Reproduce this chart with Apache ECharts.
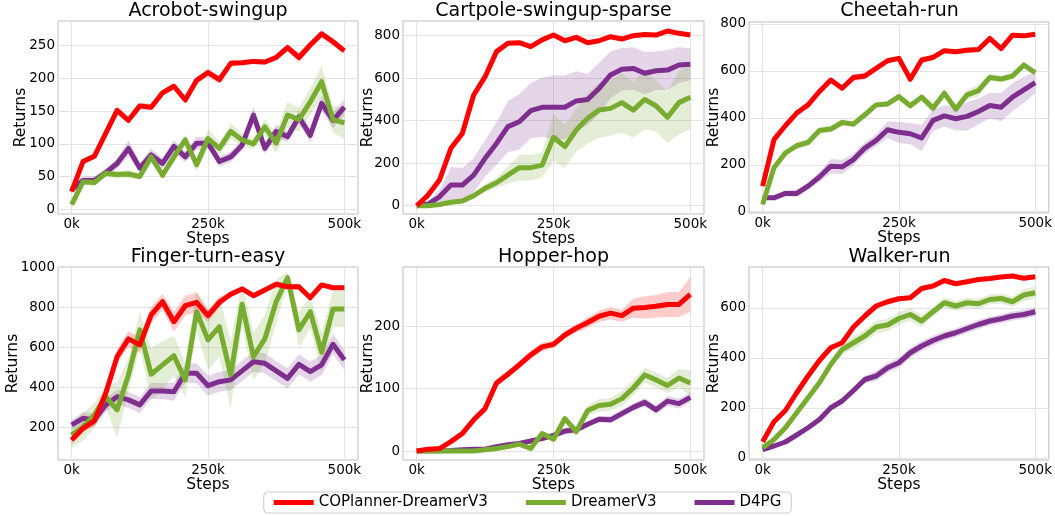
<!DOCTYPE html>
<html>
<head>
<meta charset="utf-8">
<script src="https://cdn.jsdelivr.net/npm/echarts@6/dist/echarts.min.js"></script>
<style>
html,body{margin:0;padding:0;background:#fff;}
#chart{width:1055px;height:516px;}
</style>
</head>
<body>
<div id="chart"></div>
<script>
// ---------------- DATA ----------------
const steps = [0, 20833, 41667, 62500, 83333, 104167, 125000, 145833, 166667, 187500, 208333, 229167, 250000,
  270833, 291667, 312500, 333333, 354167, 375000, 395833, 416667, 437500, 458333, 479167, 500000];
const envNames = ['Acrobot-swingup', 'Cartpole-swingup-sparse', 'Cheetah-run', 'Finger-turn-easy', 'Hopper-hop', 'Walker-run'];
const methodNames = ['COPlanner-DreamerV3', 'DreamerV3', 'D4PG'];
const xTickValues = [0, 250000, 500000];
const yTickValues = [
  [0, 50, 100, 150, 200, 250],
  [0, 200, 400, 600, 800],
  [0, 200, 400, 600, 800],
  [200, 400, 600, 800, 1000],
  [0, 100, 200],
  [0, 200, 400, 600]
];

// Acrobot-swingup
const acrobotCop = [27,73,81,116,151,136,158,156,178,188,167,197,209,198,223,224,226,225,232,247,232,251,268,256,242];
const acrobotCopSd = [3,5,5,5,6,5,5,5,5,5,5,5,6,6,5,4,4,4,5,6,8,6,5,6,4];
const acrobotDreamer = [7,42,41,55,53,54,50,80,52,80,106,68,108,93,119,106,100,126,101,144,137,164,195,137,132];
const acrobotDreamerSd = [4,5,6,5,6,6,5,6,5,8,8,10,15,10,12,10,8,12,15,20,18,20,25,20,25];
const acrobotD4pg = [30,44,44,56,70,93,63,83,70,96,80,101,101,73,80,98,144,93,119,111,141,113,162,136,156];
const acrobotD4pgSd = [5,6,6,6,8,12,8,10,8,10,8,10,8,8,8,8,12,8,10,8,10,10,12,12,12];

// Cartpole-swingup-sparse
const cartpoleCop = [0,50,121,270,340,521,607,725,764,767,748,780,803,776,792,767,776,795,784,800,805,803,822,811,803];
const cartpoleCopSd = [2,8,10,15,15,20,12,10,8,8,8,8,6,6,6,6,6,6,6,6,6,6,6,6,6];
const cartpoleDreamer = [0,0,6,16,22,47,82,108,144,179,179,191,322,278,356,411,450,458,485,450,500,469,416,485,510];
const cartpoleDreamerSd = [0,2,4,8,10,15,20,25,40,60,60,60,110,100,100,120,130,130,140,130,140,120,120,150,150];
const cartpoleD4pg = [0,8,42,97,97,144,223,293,372,395,447,463,463,463,493,500,552,615,642,646,623,635,638,662,665];
const cartpoleD4pgSd = [0,10,30,85,80,80,85,100,120,130,130,140,150,150,140,120,120,110,100,100,100,90,95,85,75];

// Cheetah-run
const cheetahCop = [109,307,366,420,455,512,561,526,572,578,611,643,653,564,646,657,686,681,688,691,738,695,752,749,756];
const cheetahCopSd = [5,8,8,8,8,10,10,10,15,15,15,10,10,10,15,12,10,8,12,10,12,10,10,10,10];
const cheetahDreamer = [31,187,250,281,295,346,352,380,373,413,455,459,490,451,488,441,505,437,498,516,572,565,578,625,592];
const cheetahDreamerSd = [5,12,15,15,15,15,15,15,12,12,12,12,15,15,15,20,15,15,20,25,15,15,15,15,10];
const cheetahD4pg = [59,59,78,78,109,148,194,191,222,271,304,349,338,332,314,389,408,396,406,427,452,445,488,519,550];
const cheetahD4pgSd = [5,8,12,15,15,20,30,30,25,25,25,35,45,45,55,45,45,50,60,55,55,60,60,55,45];

// Finger-turn-easy
const fingerCop = [137,195,232,370,553,642,612,762,828,728,808,825,758,825,865,892,858,887,915,903,903,848,912,898,898];
const fingerCopSd = [20,20,25,40,35,40,40,40,40,50,50,50,30,25,15,15,15,15,15,15,15,15,10,10,10];
const fingerDreamer = [162,203,262,353,287,462,687,465,512,558,437,778,637,703,462,815,553,642,828,948,687,778,575,792,792];
const fingerDreamerSd = [60,70,60,50,140,80,90,130,120,100,90,100,150,150,170,110,120,120,110,30,90,80,100,90,90];
const fingerD4pg = [212,245,237,312,353,337,312,382,382,378,470,470,408,428,437,482,528,520,482,445,515,478,512,615,537];
const fingerD4pgSd = [25,30,35,35,35,40,40,40,40,45,45,50,50,50,50,50,50,50,50,50,50,50,50,50,50];

// Hopper-hop
const hopperCop = [0,3,4,15,28,50,68,109,123,138,154,167,171,186,197,206,216,221,217,229,230,232,235,235,251];
const hopperCopSd = [1,2,2,4,5,5,5,6,6,7,7,7,6,6,7,8,9,10,10,15,18,18,20,20,28];
const hopperDreamer = [0,0,0,0,0,0,2,4,7,11,4,28,19,52,31,65,73,75,84,101,122,114,105,117,109];
const hopperDreamerSd = [0,0,0,0,0,0,1,1,2,2,2,4,4,5,8,8,10,10,12,12,12,12,12,15,20];
const hopperD4pg = [0,0.5,0.5,1,2,3,3,7,10,12,16,20,25,32,34,43,51,50,60,70,78,66,80,76,86];
const hopperD4pgSd = [0,0,0,0,0,1,2,2,2,3,3,4,4,5,5,5,5,6,6,6,7,7,8,8,8];

// Walker-run
const walkerCop = [64,144,189,260,327,389,440,460,523,567,607,624,636,640,677,687,709,696,704,713,717,723,727,718,724];
const walkerCopSd = [5,8,8,8,8,10,10,10,10,10,12,12,10,10,10,10,10,10,8,8,8,8,8,8,8];
const walkerDreamer = [40,73,120,180,240,300,373,433,460,487,523,531,557,573,547,584,620,607,620,616,633,637,624,651,660];
const walkerDreamerSd = [5,8,10,12,15,15,15,20,25,25,25,25,25,25,25,20,20,20,20,20,20,20,20,25,25];
const walkerD4pg = [33,47,63,91,120,153,200,227,269,313,327,360,380,420,447,469,487,500,517,533,547,556,567,573,584];
const walkerD4pgSd = [5,5,6,8,8,10,10,12,15,15,20,20,20,20,20,20,18,18,18,18,18,18,18,18,18];

const panelData = [
  [acrobotCop, acrobotCopSd, acrobotDreamer, acrobotDreamerSd, acrobotD4pg, acrobotD4pgSd],
  [cartpoleCop, cartpoleCopSd, cartpoleDreamer, cartpoleDreamerSd, cartpoleD4pg, cartpoleD4pgSd],
  [cheetahCop, cheetahCopSd, cheetahDreamer, cheetahDreamerSd, cheetahD4pg, cheetahD4pgSd],
  [fingerCop, fingerCopSd, fingerDreamer, fingerDreamerSd, fingerD4pg, fingerD4pgSd],
  [hopperCop, hopperCopSd, hopperDreamer, hopperDreamerSd, hopperD4pg, hopperD4pgSd],
  [walkerCop, walkerCopSd, walkerDreamer, walkerDreamerSd, walkerD4pg, walkerD4pgSd]
];

// ---------------- LAYOUT / STYLE ----------------
const FONT = '"DejaVu Sans", sans-serif';
const lineColors = ['#ff0000', '#77ac30', '#7e2f8e'];
const bandColors = ['rgba(255,0,0,0.2)', 'rgba(119,172,48,0.2)', 'rgba(126,47,142,0.2)'];
const grids = [
  {left: 58, top: 21, width: 300, height: 193},
  {left: 403, top: 21, width: 301, height: 193},
  {left: 749, top: 22, width: 301, height: 191},
  {left: 58, top: 267, width: 300, height: 193},
  {left: 403, top: 267, width: 301, height: 193},
  {left: 749, top: 267, width: 301, height: 193}
];
const yRanges = [[-7.2, 287.7], [-39, 869], [-5.5, 808], [36.5, 1001.5], [-14.4, 295], [-9, 763]];
const yNameGaps = [29, 27, 27, 37, 27, 27];

const chart = echarts.init(document.getElementById('chart'), null, {renderer: 'canvas'});

const gridOpts = grids.map(g => ({
  left: g.left, top: g.top, width: g.width, height: g.height,
  show: true, borderColor: '#bdbdbd', borderWidth: 1, backgroundColor: 'transparent'
}));

const xAxes = grids.map((g, i) => ({
  type: 'value', gridIndex: i, min: -25000, max: 525000,
  name: 'Steps', nameLocation: 'middle', nameGap: 17, nameMoveOverlap: false,
  nameTextStyle: {fontFamily: FONT, fontSize: 15.5, color: '#000'},
  axisLine: {show: false}, axisTick: {show: false, customValues: xTickValues},
  axisLabel: {customValues: xTickValues, fontFamily: FONT, fontSize: 13.5, color: '#000', margin: 3,
    formatter: v => Math.round(v / 1000) + 'k'},
  splitLine: {show: true, lineStyle: {color: '#e3e3e3', width: 1}}
}));

const yAxes = grids.map((g, i) => ({
  type: 'value', gridIndex: i, min: yRanges[i][0], max: yRanges[i][1],
  name: 'Returns', nameLocation: 'middle', nameGap: yNameGaps[i], nameMoveOverlap: false,
  nameTextStyle: {fontFamily: FONT, fontSize: 15.5, color: '#000'},
  axisLine: {show: false}, axisTick: {show: false, customValues: yTickValues[i]},
  axisLabel: {customValues: yTickValues[i], fontFamily: FONT, fontSize: 13.5, color: '#000', margin: 3,
    formatter: v => String(v)},
  splitLine: {show: true, lineStyle: {color: '#e3e3e3', width: 1}}
}));

function bandSeries(p, m, mean, sd) {
  const lo = mean.map((v, k) => v - sd[k]);
  const hi = mean.map((v, k) => v + sd[k]);
  return {
    type: 'custom', xAxisIndex: p, yAxisIndex: p, silent: true, z: 1, clip: true,
    data: steps.map((x, k) => [x, lo[k], hi[k]]),
    encode: {x: 0, y: [1, 2]},
    renderItem: (params, api) => {
      if (params.dataIndex !== 0) return null;
      const pts = [];
      for (let k = 0; k < steps.length; k++) pts.push(api.coord([steps[k], lo[k]]));
      for (let k = steps.length - 1; k >= 0; k--) pts.push(api.coord([steps[k], hi[k]]));
      return {type: 'polygon', shape: {points: pts}, style: {fill: bandColors[m], stroke: null}};
    }
  };
}

const series = [];
panelData.forEach((arrs, p) => {
  [2, 1, 0].forEach(m => series.push(bandSeries(p, m, arrs[m * 2], arrs[m * 2 + 1])));
  [2, 1, 0].forEach(m => {
    const mean = arrs[m * 2];
    series.push({
      type: 'line', name: methodNames[m], xAxisIndex: p, yAxisIndex: p,
      data: steps.map((x, k) => [x, mean[k]]),
      showSymbol: false, symbol: 'none', color: lineColors[m],
      lineStyle: {color: lineColors[m], width: 5, join: 'round', cap: 'butt'},
      z: 3 + (2 - m)
    });
  });
});

const titles = grids.map((g, i) => ({
  type: 'text', x: g.left + g.width / 2, y: (i < 3 ? 11 : 257),
  style: {text: envNames[i], font: '19px ' + FONT, fill: '#000', textAlign: 'center', textVerticalAlign: 'middle'}
}));

chart.setOption({
  animation: false,
  backgroundColor: '#fff',
  grid: gridOpts,
  xAxis: xAxes,
  yAxis: yAxes,
  series: series,
  graphic: titles,
  legend: {
    data: methodNames.map(n => ({name: n, icon: 'rect'})),
    left: 'center', top: 492, itemWidth: 40, itemHeight: 5, itemGap: 38,
    textStyle: {fontFamily: FONT, fontSize: 15, color: '#000'},
    borderColor: '#cccccc', borderWidth: 1, borderRadius: 4, padding: [3, 10, 3, 10]
  }
});
</script>
</body>
</html>
